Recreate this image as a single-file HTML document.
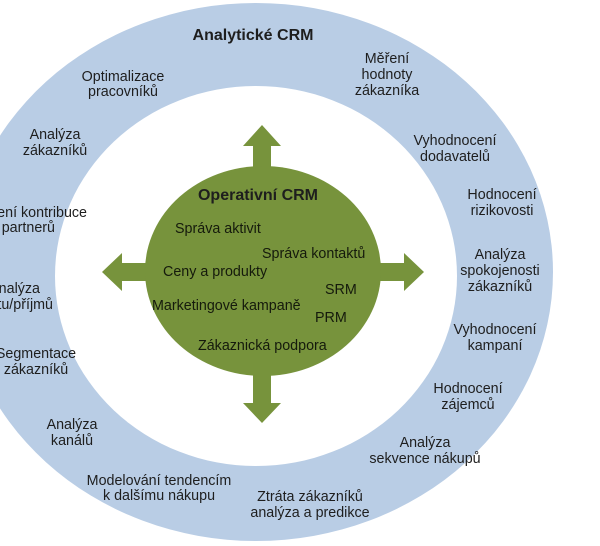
<!DOCTYPE html>
<html>
<head>
<meta charset="utf-8">
<style>
  html, body { margin:0; padding:0; background:#ffffff; }
  body { width:600px; height:546px; overflow:hidden; }
  svg { display:block; }
  text { font-family: "Liberation Sans", "DejaVu Sans", sans-serif; fill:#1e1e1e; }
  .r { font-size:14.3px; }
  .g { font-size:14.3px; fill:#151a0c; }
  .b { font-size:16px; font-weight:bold; }
</style>
</head>
<body>
<svg width="600" height="546" viewBox="0 0 600 546" xmlns="http://www.w3.org/2000/svg">
  <rect x="0" y="0" width="600" height="546" fill="#ffffff"/>
  <!-- ring -->
  <ellipse cx="256" cy="272" rx="297" ry="269" fill="#b9cde5"/>
  <ellipse cx="256" cy="276" rx="201" ry="190" fill="#ffffff"/>

  <!-- arrows -->
  <g fill="#77933c">
    <!-- up -->
    <polygon points="262,125 281,146 271,146 271,272 253,272 253,146 243,146"/>
    <!-- down -->
    <polygon points="262,423 281,403 271,403 271,272 253,272 253,403 243,403"/>
    <!-- left -->
    <polygon points="102,272 122,253 122,263 262,263 262,281 122,281 122,291"/>
    <!-- right -->
    <polygon points="424,272 404,253 404,263 262,263 262,281 404,281 404,291"/>
    <ellipse cx="263" cy="271" rx="118" ry="105"/>
  </g>

  <!-- titles -->
  <text class="b" x="253" y="40" text-anchor="middle">Analytické CRM</text>
  <text class="b" x="258" y="200" text-anchor="middle">Operativní CRM</text>

  <!-- green inner labels -->
  <text class="g" x="175" y="233">Správa aktivit</text>
  <text class="g" x="262" y="258">Správa kontaktů</text>
  <text class="g" x="163" y="276">Ceny a produkty</text>
  <text class="g" x="325" y="294">SRM</text>
  <text class="g" x="152" y="310">Marketingové kampaně</text>
  <text class="g" x="315" y="322">PRM</text>
  <text class="g" x="198" y="350">Zákaznická podpora</text>

  <!-- ring labels -->
  <g class="r" text-anchor="middle">
    <text x="123" y="81">Optimalizace</text>
    <text x="123" y="96">pracovníků</text>

    <text x="387" y="63">Měření</text>
    <text x="387" y="79">hodnoty</text>
    <text x="387" y="95">zákazníka</text>

    <text x="455" y="145">Vyhodnocení</text>
    <text x="455" y="161">dodavatelů</text>

    <text x="502" y="199">Hodnocení</text>
    <text x="502" y="215">rizikovosti</text>

    <text x="500" y="259">Analýza</text>
    <text x="500" y="275">spokojenosti</text>
    <text x="500" y="291">zákazníků</text>

    <text x="495" y="334">Vyhodnocení</text>
    <text x="495" y="350">kampaní</text>

    <text x="468" y="393">Hodnocení</text>
    <text x="468" y="409">zájemců</text>

    <text x="425" y="447">Analýza</text>
    <text x="425" y="463">sekvence nákupů</text>

    <text x="310" y="501">Ztráta zákazníků</text>
    <text x="310" y="517">analýza a predikce</text>

    <text x="159" y="485">Modelování tendencím</text>
    <text x="159" y="500">k dalšímu nákupu</text>

    <text x="72" y="429">Analýza</text>
    <text x="72" y="445">kanálů</text>

    <text x="36" y="358">Segmentace</text>
    <text x="36" y="374">zákazníků</text>

    <text x="55" y="139">Analýza</text>
    <text x="55" y="155">zákazníků</text>
  </g>
  <g class="r" text-anchor="end">
    <text x="40" y="293">Analýza</text>
    <text x="53" y="309">obratu/příjmů</text>

    <text x="87" y="217">Měření kontribuce</text>
    <text x="55" y="232">partnerů</text>
  </g>
</svg>
</body>
</html>
